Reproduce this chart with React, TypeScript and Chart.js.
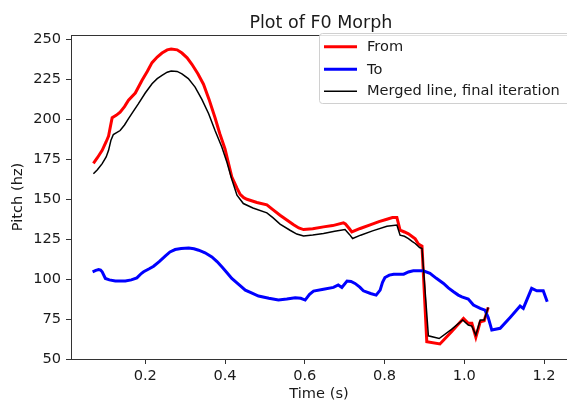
import React, { useEffect, useRef } from 'react';
import { Chart, registerables } from 'chart.js';

Chart.register(...registerables);

// ---- Data ----
const fromT = [0.070, 0.080, 0.092, 0.102, 0.108, 0.113, 0.117, 0.127, 0.137, 0.148, 0.158, 0.175, 0.192, 0.205, 0.217, 0.230, 0.242, 0.255, 0.265, 0.280, 0.292, 0.305, 0.317, 0.332, 0.346, 0.360, 0.375, 0.387, 0.400, 0.417, 0.430, 0.438, 0.447, 0.455, 0.480, 0.505, 0.520, 0.538, 0.555, 0.572, 0.585, 0.597, 0.620, 0.647, 0.670, 0.697, 0.702, 0.712, 0.718, 0.739, 0.764, 0.786, 0.806, 0.820, 0.831, 0.839, 0.850, 0.860, 0.870, 0.877, 0.885, 0.894, 0.906, 0.939, 0.968, 0.998, 1.010, 1.019, 1.029, 1.040, 1.050, 1.060];
const fromHz = [172.5, 176, 180.6, 186, 189.5, 196, 201, 202.5, 204.5, 208, 212, 216.5, 224.5, 230, 235.5, 239, 241.5, 243.5, 244, 243.5, 241.5, 238.5, 234.5, 228.5, 222, 212.5, 201, 191, 181.5, 164, 157, 153, 151, 150, 148, 146.5, 143.5, 140, 137, 134, 132, 131, 131.5, 132.7, 133.5, 135.2, 134.5, 131.5, 129.5, 131.7, 134, 136, 137.5, 138.5, 138.6, 130.6, 129.5, 128.3, 126.5, 125.2, 122, 120.6, 60.8, 59.4, 67, 75.4, 72.3, 72.3, 63.6, 73.3, 74, 82.3];

const toT = [0.068, 0.076, 0.083, 0.088, 0.092, 0.100, 0.110, 0.125, 0.150, 0.165, 0.179, 0.190, 0.196, 0.210, 0.221, 0.235, 0.250, 0.262, 0.275, 0.290, 0.309, 0.322, 0.334, 0.350, 0.367, 0.380, 0.392, 0.405, 0.417, 0.435, 0.451, 0.465, 0.484, 0.510, 0.534, 0.555, 0.576, 0.590, 0.601, 0.612, 0.622, 0.647, 0.672, 0.684, 0.693, 0.706, 0.716, 0.726, 0.738, 0.747, 0.765, 0.779, 0.789, 0.795, 0.801, 0.812, 0.823, 0.848, 0.860, 0.872, 0.897, 0.914, 0.930, 0.948, 0.960, 0.973, 0.985, 0.994, 1.010, 1.023, 1.040, 1.052, 1.060, 1.069, 1.090, 1.115, 1.140, 1.148, 1.169, 1.182, 1.198, 1.208];
const toHz = [104.6, 105.5, 106, 105.6, 104.6, 100.4, 99.5, 98.8, 98.8, 99.5, 100.8, 103.5, 104.6, 106.5, 108.1, 111, 114.4, 117, 118.5, 119.2, 119.4, 119, 118.1, 116.5, 113.9, 111, 107.7, 104, 100.4, 96.5, 93.1, 91.5, 89.4, 88, 86.9, 87.5, 88.3, 88, 86.9, 90.5, 92.5, 93.6, 94.8, 96.3, 94.8, 98.8, 98.5, 97.3, 95, 92.7, 91, 90, 93.1, 98, 101, 102.5, 103.1, 103.1, 104.5, 105.2, 105.2, 103.6, 100.5, 97.3, 94.5, 92.1, 90, 88.9, 87.5, 83.8, 81.7, 80.6, 76, 68.1, 69.2, 76, 83.1, 81.7, 94.2, 92.7, 92.7, 85.8];

const mergedT = [0.070, 0.080, 0.092, 0.102, 0.108, 0.114, 0.120, 0.137, 0.148, 0.158, 0.170, 0.183, 0.200, 0.217, 0.230, 0.242, 0.255, 0.265, 0.280, 0.292, 0.308, 0.325, 0.342, 0.359, 0.375, 0.392, 0.405, 0.417, 0.430, 0.446, 0.470, 0.505, 0.520, 0.538, 0.563, 0.580, 0.597, 0.620, 0.647, 0.675, 0.701, 0.712, 0.720, 0.740, 0.770, 0.806, 0.831, 0.839, 0.850, 0.860, 0.870, 0.877, 0.888, 0.894, 0.910, 0.937, 0.968, 0.996, 1.010, 1.019, 1.029, 1.040, 1.050, 1.060];
const mergedHz = [166, 168.5, 172.3, 176.5, 180.6, 187, 190.5, 193, 196.5, 200.4, 205, 209.8, 216.5, 222.3, 225.5, 227.5, 229.5, 230.3, 230, 228.5, 225.5, 220.2, 212.5, 203.5, 193, 182.7, 173, 162.5, 152.5, 147.3, 144.5, 141.5, 138.5, 134.4, 130.6, 128.2, 127, 127.6, 128.5, 130, 131, 128, 125.4, 127.5, 130.2, 133.1, 133.8, 127.5, 126.8, 125.4, 123.5, 122.3, 119.8, 119.2, 64.5, 62.8, 68.5, 74.4, 71.3, 70.6, 65, 74.4, 74.4, 82.3];

const seriesLabels = ['From', 'To', 'Merged line, final iteration'];
const seriesColors = ['#ff0000', '#0000ff', '#000000'];
const xTickValues = [0.2, 0.4, 0.6, 0.8, 1.0, 1.2];
const yTickValues = [50, 75, 100, 125, 150, 175, 200, 225, 250];
const chartTitle = 'Plot of F0 Morph';
const xTitle = 'Time (s)';
const yTitle = 'Pitch (hz)';

const X_MIN = 0.0138;
const X_MAX = 1.2576;
const X_AXES_END = 1.267; // right edge of the (cropped) axes box
const Y_MIN = 50;
const Y_MAX = 252.8;

const FONT = 'DejaVu Sans';
const TEXT = '#1a1a1a';
const SPINE = '#333333';

const zip = (xs: number[], ys: number[]) => xs.map((x, i) => ({ x, y: ys[i] }));

const overlayPlugin = {
  id: 'overlay',
  afterDraw(chart: any) {
    const ctx = chart.ctx as CanvasRenderingContext2D;
    const area = chart.chartArea;
    const xs = chart.scales.x;
    ctx.save();
    // title centred over the full axes box
    const axRight = xs.getPixelForValue(X_AXES_END);
    ctx.fillStyle = TEXT;
    ctx.font = `17.5px "${FONT}"`;
    ctx.textAlign = 'center';
    ctx.textBaseline = 'alphabetic';
    ctx.fillText(chartTitle, (area.left + axRight) / 2, 27.5);

    // top spine
    ctx.strokeStyle = SPINE;
    ctx.lineWidth = 1;
    ctx.beginPath();
    ctx.moveTo(area.left, Math.round(area.top) + 0.5);
    ctx.lineTo(area.right, Math.round(area.top) + 0.5);
    ctx.stroke();

    // legend box
    const bx = 319.5, by = 33.5, bw = 252, bh = 70, r = 3;
    ctx.beginPath();
    ctx.moveTo(bx + r, by);
    ctx.lineTo(bx + bw - r, by);
    ctx.arcTo(bx + bw, by, bx + bw, by + r, r);
    ctx.lineTo(bx + bw, by + bh - r);
    ctx.arcTo(bx + bw, by + bh, bx + bw - r, by + bh, r);
    ctx.lineTo(bx + r, by + bh);
    ctx.arcTo(bx, by + bh, bx, by + bh - r, r);
    ctx.lineTo(bx, by + r);
    ctx.arcTo(bx, by, bx + r, by, r);
    ctx.closePath();
    ctx.fillStyle = 'rgba(255,255,255,0.85)';
    ctx.fill();
    ctx.strokeStyle = '#d0d0d0';
    ctx.stroke();

    const rows = [46.7, 69.3, 91.2];
    const widths = [3, 3, 1.5];
    ctx.font = `14.6px "${FONT}"`;
    ctx.textAlign = 'left';
    ctx.textBaseline = 'middle';
    seriesLabels.forEach((lab, i) => {
      ctx.strokeStyle = seriesColors[i];
      ctx.lineWidth = widths[i];
      ctx.beginPath();
      ctx.moveTo(324, rows[i]);
      ctx.lineTo(357, rows[i]);
      ctx.stroke();
      ctx.fillStyle = TEXT;
      ctx.fillText(lab, 367, rows[i] + 0.5);
    });
    ctx.restore();
  },
};

export default function App() {
  const ref = useRef<HTMLCanvasElement>(null);
  useEffect(() => {
    if (!ref.current) return;
    const chart = new Chart(ref.current, {
      type: 'line',
      data: {
        datasets: [
          { label: seriesLabels[0], data: zip(fromT, fromHz), borderColor: seriesColors[0], borderWidth: 3, pointRadius: 0, tension: 0, fill: false, order: 3 },
          { label: seriesLabels[1], data: zip(toT, toHz), borderColor: seriesColors[1], borderWidth: 3, pointRadius: 0, tension: 0, fill: false, order: 2 },
          { label: seriesLabels[2], data: zip(mergedT, mergedHz), borderColor: seriesColors[2], borderWidth: 1.5, pointRadius: 0, tension: 0, fill: false, order: 1 },
        ],
      },
      options: {
        animation: false,
        responsive: false,
        devicePixelRatio: 1,
        layout: { padding: { top: 35, left: 0, right: 0, bottom: 0 } },
        plugins: {
          legend: { display: false },
          title: { display: false },
          tooltip: { enabled: false },
        },
        scales: {
          x: {
            type: 'linear',
            min: X_MIN,
            max: X_MAX,
            afterBuildTicks: (s: any) => { s.ticks = xTickValues.map((v) => ({ value: v })); },
            afterFit: (s: any) => { s.height = 44; },
            ticks: {
              color: TEXT,
              font: { family: FONT, size: 14.6 },
              padding: 3,
              maxRotation: 0,
              autoSkip: false,
              callback: (v: any) => Number(v).toFixed(1),
            },
            grid: { drawOnChartArea: false, drawTicks: true, tickLength: 5, color: SPINE, tickWidth: 1 },
            border: { display: true, color: SPINE, width: 1 },
            title: { display: true, text: xTitle, color: TEXT, font: { family: FONT, size: 14.6 }, padding: { top: 0, bottom: 0 } },
          },
          y: {
            type: 'linear',
            min: Y_MIN,
            max: Y_MAX,
            afterBuildTicks: (s: any) => { s.ticks = yTickValues.map((v) => ({ value: v })); },
            afterFit: (s: any) => { s.width = 71; },
            ticks: {
              color: TEXT,
              font: { family: FONT, size: 14.6 },
              padding: 5,
              autoSkip: false,
              callback: (v: any) => String(v),
            },
            grid: { drawOnChartArea: false, drawTicks: true, tickLength: 5, color: SPINE, tickWidth: 1 },
            border: { display: true, color: SPINE, width: 1 },
            title: { display: true, text: yTitle, color: TEXT, font: { family: FONT, size: 14.6 }, padding: { top: 9, bottom: 0 } },
          },
        },
      },
      plugins: [overlayPlugin],
    });
    return () => chart.destroy();
  }, []);
  return (
    <div style={{ position: 'fixed', left: 0, top: 0, width: 567, height: 403, background: '#fff' }}>
      <canvas ref={ref} width={567} height={403} style={{ display: 'block' }} />
    </div>
  );
}
